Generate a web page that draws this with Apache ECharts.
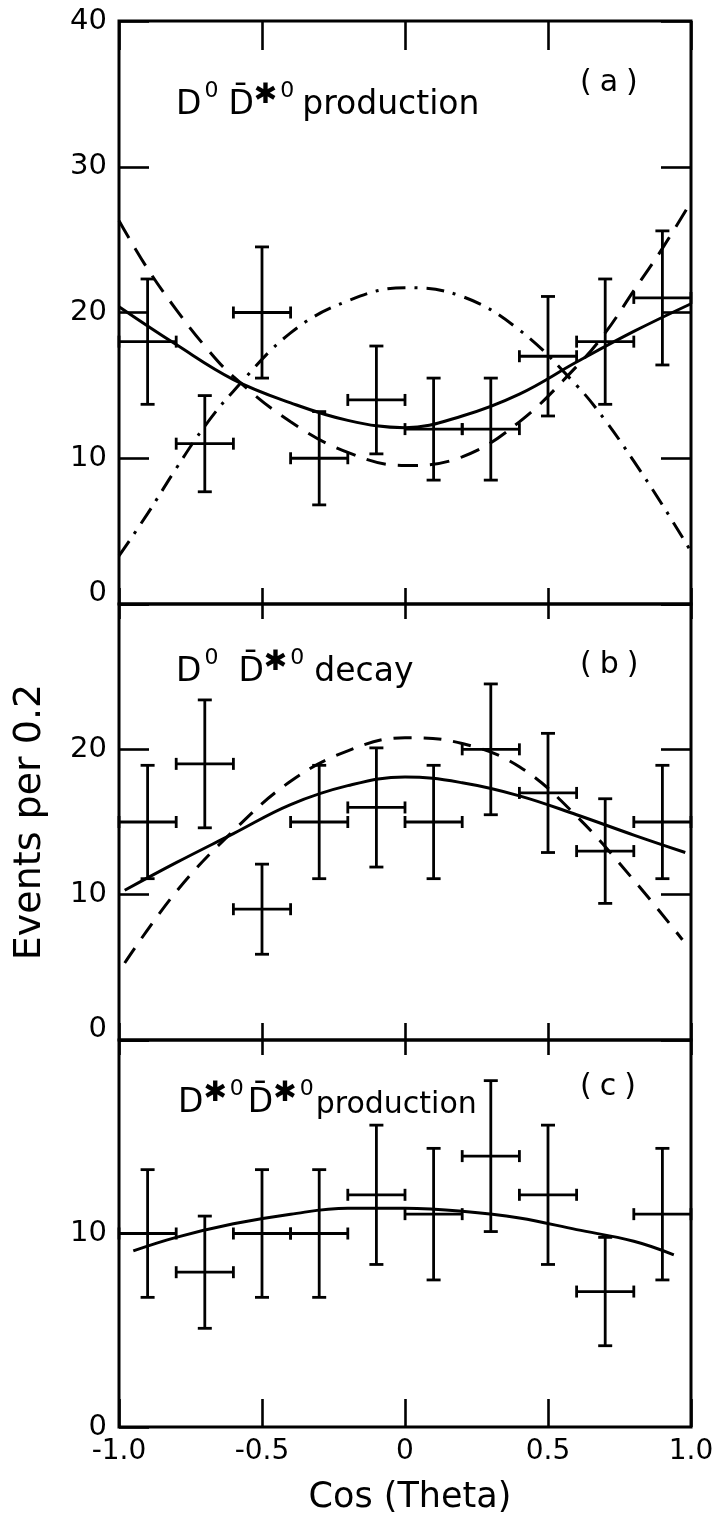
<!DOCTYPE html>
<html>
<head>
<meta charset="utf-8">
<script src="https://cdn.jsdelivr.net/npm/echarts@6/dist/echarts.min.js"></script>
<style>
html,body{margin:0;padding:0;background:#fff;}
#chart{width:724px;height:1522px;}
</style>
</head>
<body>
<div id="chart"></div>
<script>
// ---- data ----
const xCenters = [-0.9,-0.7,-0.5,-0.3,-0.1,0.1,0.3,0.5,0.7,0.9];
const xHalfWidth = 0.1;
const xTickLabels = ['-1.0','-0.5','0','0.5','1.0'];

const prodA    = [18,11,20,10,14,12,12,17,18,21];
const prodAErr = [4.3,3.3,4.5,3.2,3.7,3.5,3.5,4.1,4.3,4.6];
const decayB    = [15,19,9,15,16,15,20,17,13,15];
const decayBErr = [3.9,4.4,3.1,3.9,4.1,3.9,4.5,4.1,3.6,3.9];
const prodC    = [10,8,10,10,12,11,14,12,7,11];
const prodCErr = [3.3,2.9,3.3,3.3,3.6,3.4,3.9,3.6,2.8,3.4];

// fitted curves
const solidAx = [-1.0,-0.8,-0.6,-0.4,-0.2,0.0,0.2,0.4,0.6,0.8,1.0];
const solidAy = [20.4,17.8,15.4,13.8,12.6,12.1,12.9,14.4,16.6,18.7,20.6];
const dashAx = [-1.0,-0.9,-0.8,-0.7,-0.6,-0.4,-0.2,0.0,0.2,0.4,0.6,0.7,0.8,0.9,1.0];
const dashAy = [26.3,23.0,20.2,17.7,15.6,12.5,10.4,9.5,10.1,12.5,16.3,18.6,21.5,24.4,27.6];
const dotDashAx = [-1.0,-0.9,-0.8,-0.7,-0.6,-0.4,-0.2,0.0,0.2,0.4,0.6,0.7,0.8,0.9,1.0];
const dotDashAy = [3.3,6.2,9.3,12.2,14.6,18.6,20.8,21.7,21.1,18.8,15.0,12.6,9.8,6.8,3.6];

const solidBx = [-0.98,-0.8,-0.6,-0.4,-0.2,0.0,0.2,0.4,0.6,0.8,0.98];
const solidBy = [10.3,12.2,14.2,16.2,17.5,18.1,17.7,16.8,15.5,14.1,12.9];
const dashBx = [-0.98,-0.8,-0.6,-0.4,-0.2,0.0,0.2,0.4,0.6,0.8,0.97];
const dashBy = [5.3,10.2,14.4,17.8,19.9,20.8,20.4,18.8,15.4,11.0,6.9];

const solidCx = [-0.95,-0.8,-0.6,-0.4,-0.2,0.0,0.2,0.4,0.6,0.8,0.94];
const solidCy = [9.1,9.8,10.5,11.0,11.3,11.3,11.15,10.8,10.2,9.6,8.9];

// ---- chart ----
const chart = echarts.init(document.getElementById('chart'), null, {renderer:'canvas'});
const FONT = '"DejaVu Sans", "Liberation Sans", sans-serif';
const BLACK = '#000';

function errRender(params, api){
  const x = api.value(0), y = api.value(1), e = api.value(2), hx = api.value(3);
  const top = api.coord([x, y+e]);
  const bot = api.coord([x, y-e]);
  const l = api.coord([x-hx, y]);
  const r = api.coord([x+hx, y]);
  const cap = 7, tk = 6;
  const st = {stroke: BLACK, lineWidth: 2.8};
  const ln = (x1,y1,x2,y2)=>({type:'line', shape:{x1,y1,x2,y2}, style:st});
  return {type:'group', children:[
    ln(top[0], top[1], bot[0], bot[1]),
    ln(top[0]-cap, top[1], top[0]+cap, top[1]),
    ln(bot[0]-cap, bot[1], bot[0]+cap, bot[1]),
    ln(l[0], l[1], r[0], r[1]),
    ln(l[0], l[1]-tk, l[0], l[1]+tk),
    ln(r[0], r[1]-tk, r[0], r[1]+tk)
  ]};
}
function errSeries(idx, vals, errs){
  return {type:'custom', xAxisIndex: idx*2, yAxisIndex: idx*2, renderItem: errRender,
    data: xCenters.map((x,i)=>[x, vals[i], errs[i], xHalfWidth]), clip:false, z:3};
}
function curve(idx, xs, ys, type){
  return {type:'line', xAxisIndex: idx*2, yAxisIndex: idx*2, showSymbol:false, symbol:'none',
    smooth:0.4, data: xs.map((x,i)=>[x, ys[i]]),
    lineStyle:{color:BLACK, width:3, type:type, cap:'butt'}, z:4, silent:true};
}

const grids = [
  {left:119, top:21, width:572, height:583},
  {left:119, top:604, width:572, height:436},
  {left:119, top:1040, width:572, height:387}
].map(g=>Object.assign(g,{show:true, borderColor:BLACK, borderWidth:3, backgroundColor:'transparent'}));

function xAx(gi, pos, len, showLabel){
  return {type:'value', gridIndex:gi, position:pos, min:-1, max:1, interval:0.5,
    axisLine:{show:false, onZero:false}, splitLine:{show:false},
    axisTick:{show:true, inside:true, length:len, lineStyle:{color:BLACK, width:2.6}},
    axisLabel:{show:showLabel, color:BLACK, fontSize:28, fontFamily:FONT, margin:11,
      formatter:(v)=>xTickLabels[Math.round((v+1)/0.5)]}};
}
const zeroRich = {r:{fontSize:29, fontFamily:FONT, color:BLACK, padding:[0,0,22,0]}};
function yAx(gi, pos, max, showTick, showLabel, fmt){
  return {type:'value', gridIndex:gi, position:pos, min:0, max:max, interval:10,
    axisLine:{show:false, onZero:false}, splitLine:{show:false},
    axisTick:{show:showTick, inside:true, length:30, lineStyle:{color:BLACK, width:2.6}},
    axisLabel:{show:showLabel, color:BLACK, fontSize:29, fontFamily:FONT, margin:12, formatter:fmt, rich:zeroRich}};
}

const mainRich = (fs, gpad, ppad, pfs)=>({
  m:{fontSize:fs, fontFamily:FONT, color:BLACK, verticalAlign:'bottom', lineHeight:46},
  s:{fontSize:22, fontFamily:FONT, color:BLACK, verticalAlign:'top', lineHeight:46, padding:[4,0,0,3]},
  st:{fontSize:28, fontFamily:FONT, color:BLACK, verticalAlign:'top', lineHeight:46, padding:[6,0,0,0]},
  g:{fontSize:fs, fontFamily:FONT, color:BLACK, verticalAlign:'bottom', lineHeight:46, padding:[0,0,0,gpad]},
  p:{fontSize:pfs, fontFamily:FONT, color:BLACK, verticalAlign:'bottom', lineHeight:46, padding:[0,0,0,ppad]}
});
const tagRich = {
  b:{fontSize:30, fontFamily:FONT, color:BLACK},
  l:{fontSize:30, fontFamily:FONT, color:BLACK, padding:[0,8,0,8]}
};

const option = {
  backgroundColor:'#fff',
  animation:false,
  grid: grids,
  xAxis: [
    xAx(0,'bottom',16,false), xAx(0,'top',29,false),
    xAx(1,'bottom',17,false), xAx(1,'top',15,false),
    xAx(2,'bottom',28,true),  xAx(2,'top',15,false)
  ],
  yAxis: [
    yAx(0,'left',40,true,true,(v)=> v===0 ? '{r|0}' : String(v)),
    yAx(0,'right',40,true,false),
    yAx(1,'left',30,true,true,(v)=> v===30 ? '' : (v===0 ? '{r|0}' : String(v))),
    yAx(1,'right',30,true,false),
    yAx(2,'left',20,true,true,(v)=> v===20 ? '' : String(v)),
    yAx(2,'right',20,false,false)
  ],
  series: [
    errSeries(0, prodA, prodAErr),
    curve(0, solidAx, solidAy, 'solid'),
    curve(0, dashAx, dashAy, [20,12]),
    curve(0, dotDashAx, dotDashAy, [18,9,3,9]),
    errSeries(1, decayB, decayBErr),
    curve(1, solidBx, solidBy, 'solid'),
    curve(1, dashBx, dashBy, [18,12]),
    errSeries(2, prodC, prodCErr),
    curve(2, solidCx, solidCy, 'solid')
  ],
  graphic: [
    {type:'text', x:410, y:1498, style:{text:'Cos (Theta)', fontSize:35, fontFamily:FONT, fill:BLACK, align:'center', verticalAlign:'middle'}},
    {type:'text', x:30, y:822, rotation:Math.PI/2, style:{text:'Events per 0.2', fontSize:38, fontFamily:FONT, fill:BLACK, align:'center', verticalAlign:'middle'}},
    {type:'text', x:176, y:76, style:{text:'{m|D}{s|0}{g|D\u0304}{st|\u2731}{s|0}{p|production}', rich:mainRich(33,10,8,33), fill:BLACK}},
    {type:'text', x:580, y:68, style:{text:'{b|(}{l|a}{b|)}', rich:tagRich}},
    {type:'text', x:176, y:643, style:{text:'{m|D}{s|0}{g|D\u0304}{st|\u2731}{s|0}{p|decay}', rich:mainRich(33,20,10,33), fill:BLACK}},
    {type:'text', x:580, y:650, style:{text:'{b|(}{l|b}{b|)}', rich:tagRich}},
    {type:'text', x:178, y:1074, style:{text:'{m|D}{st|\u2731}{s|0}{g|D\u0304}{st|\u2731}{s|0}{p|production}', rich:mainRich(33,4,2,30), fill:BLACK}},
    {type:'text', x:580, y:1072, style:{text:'{b|(}{l|c}{b|)}', rich:tagRich}}
  ]
};
chart.setOption(option);
</script>
</body>
</html>
